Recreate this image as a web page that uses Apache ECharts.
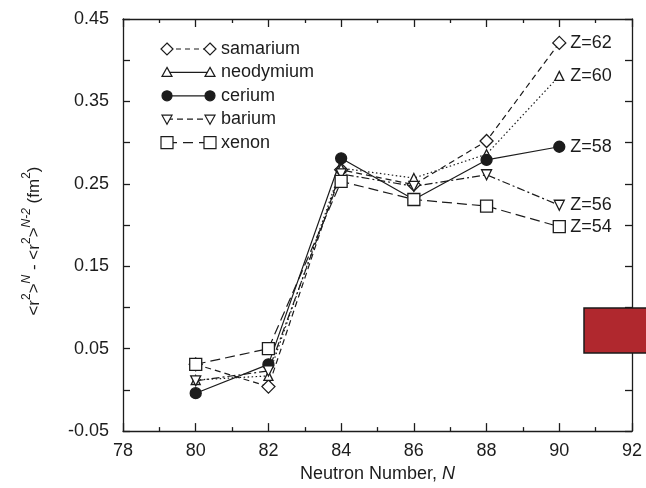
<!DOCTYPE html>
<html>
<head>
<meta charset="utf-8">
<script src="https://cdn.jsdelivr.net/npm/echarts@6/dist/echarts.min.js"></script>
<style>
  html, body { margin: 0; padding: 0; background: #fff; }
  #chart { width: 646px; height: 488px; }
</style>
</head>
<body>
<div id="chart"></div>
<script>
// neutron numbers
const neutrons = [80, 82, 84, 86, 88, 90]

// <r^2>^N - <r^2>^(N-2), fm^2
const samarium = [0.031, 0.004, 0.267, 0.249, 0.302, 0.421]
const neodymium = [0.012, 0.017, 0.269, 0.257, 0.286, 0.381]
const cerium = [-0.004, 0.031, 0.281, 0.231, 0.279, 0.295]
const barium = [0.011, 0.023, 0.262, 0.247, 0.261, 0.224]
const xenon = [0.031, 0.050, 0.253, 0.231, 0.223, 0.198]

const names = ['samarium', 'neodymium', 'cerium', 'barium', 'xenon']
const zLabels = ['Z=62', 'Z=60', 'Z=58', 'Z=56', 'Z=54']

const FONT = 'Liberation Sans, Arial, sans-serif'
const INK = '#1c1c1c'

// per-series look
const looks = [
  { symbol: 'diamond', size: 13, rotate: 0, fill: '#fff', dash: [6, 4], legendDash: [5, 4] },
  { symbol: 'triangle', size: 9, rotate: 0, fill: '#fff', dash: [1.5, 2.5], legendDash: null },
  { symbol: 'circle', size: 11, rotate: 0, fill: INK, dash: null, legendDash: null },
  { symbol: 'triangle', size: 10, rotate: 180, fill: '#fff', dash: [8, 3, 2, 3], legendDash: [6, 4] },
  { symbol: 'rect', size: 12, rotate: 0, fill: '#fff', dash: [10, 5], legendDash: [10, 6] },
]
const values = [samarium, neodymium, cerium, barium, xenon]

function makeSeries(i) {
  const lk = looks[i]
  return {
    name: names[i],
    type: 'line',
    data: neutrons.map((n, k) => [n, values[i][k]]),
    symbol: lk.symbol,
    symbolSize: lk.size,
    symbolRotate: lk.rotate,
    showAllSymbol: true,
    lineStyle: { color: INK, width: 1.2, type: lk.dash || 'solid' },
    itemStyle: { color: lk.fill, borderColor: INK, borderWidth: 1.3 },
    endLabel: {
      show: true,
      formatter: zLabels[i],
      color: INK,
      fontSize: 18,
      fontFamily: FONT,
      distance: 11,
    },
    emphasis: { disabled: true },
    z: 3 + i,
  }
}

// small legend symbols drawn as graphics
function legendSymbol(i, cx, cy) {
  const lk = looks[i]
  const st = { fill: lk.fill, stroke: INK, lineWidth: 1.2 }
  if (lk.symbol === 'circle') {
    return { type: 'circle', shape: { cx: cx, cy: cy, r: 5 }, style: st, z: 20 }
  }
  if (lk.symbol === 'rect') {
    return { type: 'rect', shape: { x: cx - 6, y: cy - 6, width: 12, height: 12 }, style: st, z: 20 }
  }
  if (lk.symbol === 'diamond') {
    return { type: 'polygon', shape: { points: [[cx, cy - 6], [cx + 6, cy], [cx, cy + 6], [cx - 6, cy]] }, style: st, z: 20 }
  }
  if (lk.rotate === 180) {
    return { type: 'polygon', shape: { points: [[cx - 5, cy - 4], [cx + 5, cy - 4], [cx, cy + 5]] }, style: st, z: 20 }
  }
  return { type: 'polygon', shape: { points: [[cx, cy - 5], [cx + 5, cy + 4], [cx - 5, cy + 4]] }, style: st, z: 20 }
}

const legendEls = []
names.forEach(function (nm, i) {
  const y = 49 + i * 23.4
  legendEls.push({
    type: 'line',
    shape: { x1: 167, y1: y, x2: 210, y2: y },
    style: { stroke: INK, lineWidth: 1.2, lineDash: looks[i].legendDash },
    z: 19,
  })
  legendEls.push(legendSymbol(i, 167, y))
  legendEls.push(legendSymbol(i, 210, y))
  legendEls.push({
    type: 'text',
    x: 221,
    y: y,
    style: { text: nm, fill: INK, font: '18px ' + FONT, textVerticalAlign: 'middle' },
    z: 20,
  })
})

// red box overlay on the right edge
legendEls.push({
  type: 'rect',
  shape: { x: 584, y: 308, width: 80, height: 45 },
  style: { fill: '#b0282e', stroke: '#1a1a1a', lineWidth: 1.5 },
  z: 30,
})

const axisLine = { show: true, onZero: false, lineStyle: { color: INK, width: 1.3 } }
const tickStyle = { color: INK, width: 1.3 }

const option = {
  animation: false,
  backgroundColor: '#fff',
  grid: { left: 123, right: 14, top: 19, bottom: 50 },
  xAxis: [
    {
      type: 'value',
      min: 78,
      max: 92,
      interval: 2,
      position: 'bottom',
      axisLine: axisLine,
      axisTick: { inside: true, length: 8, lineStyle: tickStyle },
      minorTick: { show: true, splitNumber: 2, length: 4, lineStyle: tickStyle },
      splitLine: { show: false },
      axisLabel: { color: INK, fontSize: 18, fontFamily: FONT, margin: 11 },
      name: '{a|Neutron Number, }{i|N}',
      nameLocation: 'middle',
      nameGap: 30,
      nameTextStyle: {
        rich: {
          a: { fontSize: 18, fontFamily: FONT, color: INK },
          i: { fontSize: 18, fontFamily: FONT, color: INK, fontStyle: 'italic' },
        },
      },
    },
    {
      type: 'value',
      min: 78,
      max: 92,
      interval: 2,
      position: 'top',
      axisLine: axisLine,
      axisTick: { inside: true, length: 8, lineStyle: tickStyle },
      minorTick: { show: true, splitNumber: 2, length: 4, lineStyle: tickStyle },
      splitLine: { show: false },
      axisLabel: { show: false },
    },
  ],
  yAxis: [
    {
      type: 'value',
      min: -0.05,
      max: 0.45,
      interval: 0.05,
      position: 'left',
      axisLine: axisLine,
      axisTick: { inside: true, length: 7, lineStyle: tickStyle },
      splitLine: { show: false },
      axisLabel: {
        color: INK,
        fontSize: 18,
        fontFamily: FONT,
        margin: 14,
        formatter: function (v) {
          const k = Math.round(v * 100)
          if (Math.abs(k) % 10 !== 5) return ''
          return v.toFixed(2)
        },
      },
      name: '{a|<r}{s|2}{a|>}{si|N}{a| - <r}{s|2}{a|>}{si|N-2}{a| (fm}{s|2}{a|)}',
      nameLocation: 'middle',
      nameGap: 80,
      nameTextStyle: {
        padding: [0, 32, 0, 0],
        rich: {
          a: { fontSize: 17, fontFamily: FONT, color: INK, verticalAlign: 'bottom', lineHeight: 22 },
          s: { fontSize: 12, fontFamily: FONT, color: INK, verticalAlign: 'top', lineHeight: 22 },
          si: { fontSize: 12, fontFamily: FONT, color: INK, fontStyle: 'italic', verticalAlign: 'top', lineHeight: 22 },
        },
      },
    },
    {
      type: 'value',
      min: -0.05,
      max: 0.45,
      interval: 0.05,
      position: 'right',
      axisLine: axisLine,
      axisTick: { inside: true, length: 7, lineStyle: tickStyle },
      splitLine: { show: false },
      axisLabel: { show: false },
    },
  ],
  series: names.map(function (nm, i) { return makeSeries(i) }),
  graphic: legendEls,
}

const chart = echarts.init(document.getElementById('chart'))
chart.setOption(option)
</script>
</body>
</html>
